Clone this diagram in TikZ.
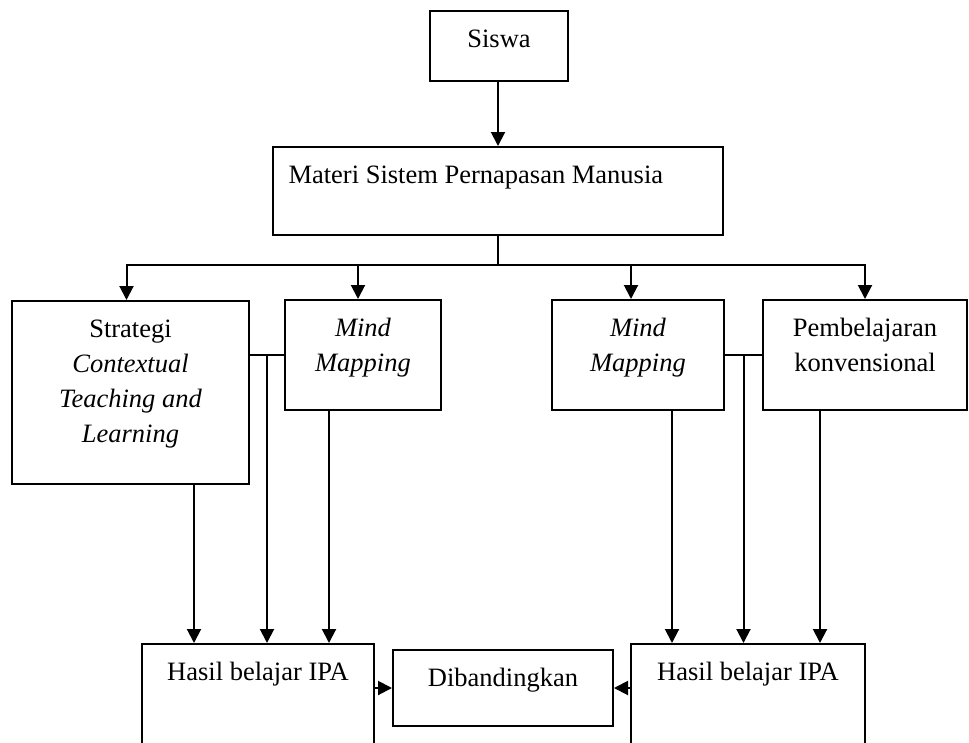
\documentclass[tikz,border=0pt]{standalone}
\usepackage{fontspec}
\setmainfont{Liberation Serif}
\usetikzlibrary{arrows.meta,fit,calc}

\begin{document}
\begin{tikzpicture}[
    x=1pt, y=-1pt,
    font=\fontsize{26.5}{35}\selectfont,
    box/.style={rectangle, draw, line width=2pt, inner sep=0pt},
    lbl/.style={anchor=north, align=center, yshift=-16pt},
    arrow/.style={-{Triangle[length=14pt,width=14pt]}, line width=2pt},
    line/.style={line width=2pt}
]
    \clip (0,0) rectangle (969,742);

    \node[box, fit={(430,11) (568,81)}, label={[lbl]north:Siswa}] (siswa) {};
    \node[box, fit={(273,147) (723,235)},
          label={[lbl, anchor=north west, xshift=13pt]north west:Materi Sistem Pernapasan Manusia}] (materi) {};
    \node[box, fit={(12,301) (249,484)},
          label={[lbl]north:Strategi\\\textit{Contextual}\\\textit{Teaching and}\\\textit{Learning}}] (strategi) {};
    \node[box, fit={(285,300) (441,410)}, label={[lbl]north:\textit{Mind}\\\textit{Mapping}}] (mind1) {};
    \node[box, fit={(552,300) (724,410)}, label={[lbl]north:\textit{Mind}\\\textit{Mapping}}] (mind2) {};
    \node[box, fit={(763,300) (967,410)}, label={[lbl]north:Pembelajaran\\konvensional}] (konv) {};
    \node[box, fit={(142,644) (374,790)}, label={[lbl]north:Hasil belajar IPA}] (hasil1) {};
    \node[box, fit={(393,650) (613,726)}, label={[lbl]north:Dibandingkan}] (banding) {};
    \node[box, fit={(631,644) (865,790)}, label={[lbl]north:Hasil belajar IPA}] (hasil2) {};

    % percabangan dari materi
    \coordinate (cabang) at ($(materi.south)+(0,29)$);
    \draw[arrow] (materi.north |- siswa.south) -- (materi.north);
    \draw[line] (materi.south) -- (cabang);
    \draw[arrow] (cabang) -| ([xshift=-4pt]strategi.north);
    \draw[arrow] (cabang) -| ([xshift=-5pt]mind1.north);
    \draw[arrow] (cabang) -| ([xshift=-7pt]mind2.north);
    \draw[arrow] (cabang) -| (konv.north);

    % sisi kiri
    \coordinate (t1) at ($(strategi.east |- mind1.west)!.5!(mind1.west)$);
    \draw[line] (strategi.east |- mind1.west) -- (mind1.west);
    \draw[arrow] (t1) -- (t1 |- hasil1.north);
    \draw[arrow] ([xshift=-64pt]hasil1.north |- strategi.south) -- ([xshift=-64pt]hasil1.north);
    \draw[arrow] ([xshift=71pt]hasil1.north |- mind1.south) -- ([xshift=71pt]hasil1.north);

    % sisi kanan
    \coordinate (t2) at ($(mind2.east)!.5!(konv.west |- mind2.east)$);
    \draw[line] (mind2.east) -- (konv.west |- mind2.east);
    \draw[arrow] (t2) -- (t2 |- hasil2.north);
    \draw[arrow] ([xshift=-76pt]hasil2.north |- mind2.south) -- ([xshift=-76pt]hasil2.north);
    \draw[arrow] ([xshift=72pt]hasil2.north |- konv.south) -- ([xshift=72pt]hasil2.north);

    % dibandingkan
    \draw[arrow] (hasil1.east |- banding.west) -- (banding.west);
    \draw[arrow] (hasil2.west |- banding.east) -- (banding.east);
\end{tikzpicture}
\end{document}
